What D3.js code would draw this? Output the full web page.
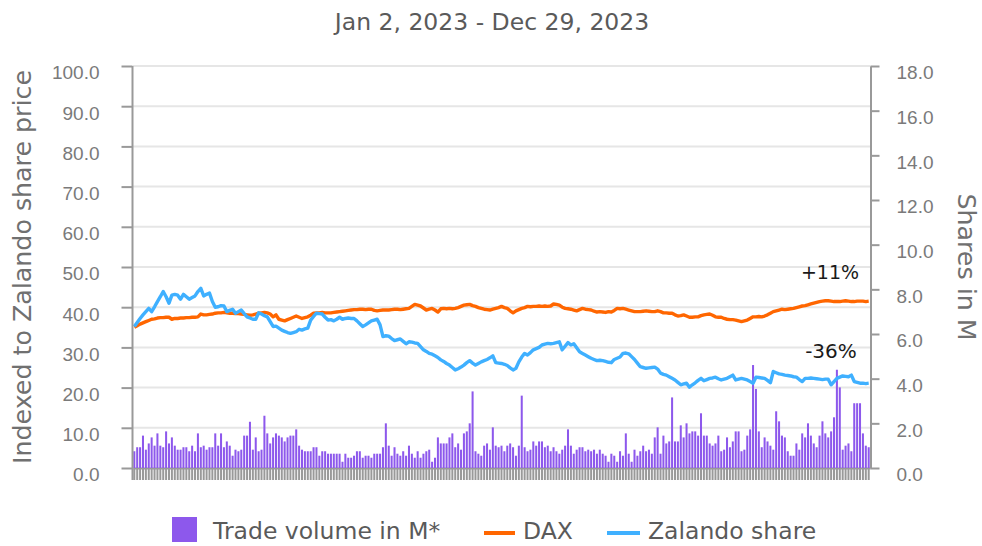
<!DOCTYPE html>
<html>
<head>
<meta charset="utf-8">
<script src="https://cdn.jsdelivr.net/npm/d3@7.9.0/dist/d3.min.js"></script>
<style>
  html, body { margin: 0; padding: 0; background: #fff; }
  svg { display: block; font-family: "DejaVu Sans", Verdana, sans-serif; }
</style>
</head>
<body>
<svg id="chart" width="982" height="546"></svg>
<script>
// trading days of 2023 (Xetra), weekends and exchange holidays removed
const holidays = ['2023-04-07', '2023-04-10', '2023-05-01', '2023-12-25', '2023-12-26'];
const days = d3.timeDays(new Date(2023, 0, 2), new Date(2023, 11, 30))
  .filter(d => d.getDay() !== 0 && d.getDay() !== 6)
  .filter(d => !holidays.includes(d3.timeFormat('%Y-%m-%d')(d)));

// trade volume in M, one bar per day
const volume = [
  0.75,0.93,0.93,1.45,0.82,1.10,1.37,1.0,1.55,1.0,
  0.93,1.64,1.10,1.37,1.0,0.82,0.82,0.93,0.93,0.75,
  1.0,0.75,1.55,0.93,1.0,0.82,0.93,0.93,1.55,1.0,
  1.55,0.93,1.19,1.0,0.55,0.82,0.75,0.82,1.45,1.45,
  2.07,0.82,1.37,0.75,0.82,2.34,1.55,1.10,1.37,1.55,
  1.45,1.37,1.19,1.37,1.45,1.45,1.73,1.0,0.82,0.75,
  0.75,0.75,0.93,0.93,0.55,0.75,0.75,0.64,0.64,0.64,
  0.64,0.64,0.28,0.64,0.46,0.46,0.55,0.75,0.75,0.46,
  0.55,0.55,0.46,0.64,0.64,0.64,0.93,2.0,1.0,0.55,
  0.93,0.64,0.55,0.75,0.55,1.0,0.64,0.46,0.75,0.46,
  0.64,0.75,
  0.82,0.28,0.46,1.37,1.10,1.10,1.10,1.37,1.55,0.93,
  1.10,0.82,1.55,1.64,2.0,3.43,0.75,0.64,0.55,1.0,
  1.10,0.82,1.82,1.0,0.93,1.0,0.75,1.0,1.10,0.93,
  0.55,1.0,3.24,0.93,0.75,0.82,1.19,1.0,1.19,1.19,
  0.93,1.0,0.75,0.93,0.75,0.64,0.82,1.0,1.73,1.0,
  0.64,0.82,0.93,0.93,0.75,0.82,0.75,0.82,0.64,0.82,
  0.64,0.55,0.28,0.64,0.55,0.28,0.75,0.55,1.55,0.64,
  0.28,0.82,0.55,0.75,1.0,0.75,0.82,0.64,1.37,1.82,
  0.64,1.45,1.10,1.19,3.16,1.19,1.19,1.91,1.37,2.0,
  1.55,1.64,1.64,1.45,2.45,1.45,1.45,1.10,1.0,1.10,
  1.45,0.75,
  0.82,1.37,0.93,1.19,1.64,1.64,0.75,0.82,1.45,1.73,
  4.61,3.54,1.64,0.93,1.37,1.19,1.0,0.82,2.54,2.09,
  1.45,1.37,0.75,0.55,0.55,1.10,0.82,1.55,1.37,2.0,
  1.45,1.10,0.93,1.45,2.09,1.55,1.37,1.64,2.27,4.40,
  3.61,0.82,1.0,1.10,0.75,2.90,2.90,2.90,1.55,1.0,
  0.93
];

// DAX, indexed to the Zalando share price
const dax = [
  35.0,35.4,35.8,36.1,36.4,36.7,37.0,37.1,37.3,37.4,
  37.4,37.5,37.5,37.0,37.2,37.2,37.3,37.3,37.4,37.4,
  37.5,37.5,37.6,38.3,38.1,38.1,38.2,38.3,38.5,38.6,
  38.6,38.7,38.6,38.5,38.5,38.4,38.4,38.3,38.2,38.1,
  38.0,38.1,38.3,38.5,38.6,38.7,38.6,38.3,37.6,38.1,
  37.0,36.8,36.6,36.9,37.2,37.5,37.8,37.5,37.2,37.4,
  37.6,38.0,38.5,38.6,38.6,38.7,38.6,38.6,38.6,38.7,
  38.8,38.9,39.0,39.1,39.2,39.3,39.4,39.4,39.5,39.5,
  39.4,39.5,39.5,39.2,39.1,39.2,39.3,39.3,39.3,39.4,
  39.5,39.5,39.4,39.5,39.6,39.7,40.2,40.7,40.5,40.3,
  39.8,39.3,39.5,39.7,39.3,38.8,39.6,39.7,39.6,39.7,
  39.6,39.7,39.9,40.2,40.5,40.6,40.7,40.4,40.2,39.9,
  39.7,39.5,39.4,39.3,39.5,39.7,39.9,40.2,39.9,39.7,
  39.1,38.6,39.1,39.4,39.7,39.9,40.2,40.1,40.2,40.2,
  40.3,40.2,40.3,40.2,40.3,40.8,40.7,40.5,40.0,39.7,
  39.6,39.5,39.3,39.1,39.4,39.7,39.5,39.4,39.3,39.0,
  38.8,38.9,38.8,38.7,38.9,38.8,39.2,39.7,39.6,39.7,
  39.5,39.3,39.1,38.9,38.9,38.9,39.0,39.1,39.0,38.9,
  38.9,39.1,38.9,38.6,38.6,38.5,38.5,38.1,37.8,37.9,
  38.1,37.8,37.5,37.5,37.6,37.6,37.9,38.1,38.2,38.3,
  38.0,37.6,37.5,37.5,37.2,37.0,36.9,36.9,36.8,36.6,
  36.4,36.6,36.8,37.2,37.6,37.6,37.7,37.6,37.8,38.1,
  38.5,38.9,39.1,39.3,39.5,39.4,39.5,39.6,39.7,39.9,
  40.1,40.3,40.4,40.6,40.8,41.0,41.2,41.4,41.5,41.6,
  41.6,41.5,41.4,41.4,41.4,41.5,41.6,41.5,41.4,41.4,
  41.5,41.5,41.5,41.4,41.5
];

// Zalando share price
const zalando = [
  35.2,36.2,37.2,38.1,38.9,39.7,38.9,40.1,41.4,42.6,
  43.9,42.6,41.0,43.0,43.2,43.0,42.0,43.2,42.6,42.0,
  42.4,42.8,43.9,44.7,42.8,43.2,43.5,41.4,40.0,40.1,
  40.4,40.3,38.9,39.2,39.5,38.5,38.9,39.3,38.4,37.6,
  37.3,37.0,37.0,38.6,38.3,37.9,37.6,36.4,35.2,35.3,
  34.8,34.3,34.0,33.7,33.5,33.7,33.9,34.5,34.3,34.6,
  34.8,36.8,37.7,38.5,38.4,38.3,37.5,36.8,36.9,36.6,
  37.0,37.5,37.0,37.2,37.3,37.2,37.2,36.6,35.9,35.2,
  35.6,36.1,36.6,36.8,37.0,35.6,32.7,32.9,32.8,32.2,
  31.7,31.9,32.1,31.5,30.9,31.4,31.3,31.1,31.0,30.2,
  29.4,29.0,28.5,28.3,27.9,27.5,26.9,26.5,26.0,25.6,
  25.0,24.4,24.7,25.1,25.6,26.2,26.7,26.1,25.6,26.0,
  26.4,26.7,27.0,27.4,27.9,26.2,26.1,26.0,25.8,25.5,
  24.9,24.4,24.8,26.4,27.6,28.5,28.1,28.7,29.4,29.7,
  30.0,30.6,30.8,31.0,30.9,31.0,31.2,31.4,29.4,30.3,
  31.2,30.6,30.9,29.9,28.9,28.5,28.1,27.7,27.3,27.0,
  26.7,26.8,26.7,26.5,26.3,26.2,27.0,27.3,27.6,28.5,
  28.6,28.4,27.7,27.0,26.1,25.2,25.0,24.8,24.9,25.0,
  25.1,24.6,23.6,23.3,23.1,22.7,22.3,21.9,21.3,20.7,
  20.9,21.1,20.1,20.7,21.2,21.8,22.3,21.7,22.0,22.3,
  22.4,22.6,22.2,21.9,22.1,22.3,22.7,23.1,21.9,22.1,
  22.3,22.1,21.9,21.5,21.1,22.6,22.5,22.4,22.3,21.8,
  21.2,24.0,23.7,23.4,23.3,23.1,23.0,22.9,22.7,22.6,
  22.0,21.5,22.3,22.3,22.4,22.3,22.2,22.1,22.0,22.1,
  22.1,20.7,21.5,22.3,22.6,22.9,22.8,22.7,23.1,21.5,
  21.3,21.1,21.1,21.0,21.1
];

const leftTicks = d3.range(0, 101, 10);
const rightTicks = d3.range(0, 19, 2);
const dateRange = 'Jan 2, 2023 - Dec 29, 2023';
const endLabels = ['+11%', '-36%'];
const legendItems = ['Trade volume in M*', 'DAX', 'Zalando share'];

const svg = d3.select('#chart');
const plot = { left: 133, right: 870, top: 66, bottom: 468 };

const x = d3.scaleBand()
  .domain(days.map((d, i) => i))
  .range([plot.left, plot.right])
  .paddingInner(0.3)
  .paddingOuter(0.1);
const yLeft = d3.scaleLinear().domain([0, 100]).range([plot.bottom, plot.top]);
const yRight = d3.scaleLinear().domain([0, 18]).range([plot.bottom, plot.top]);
const cx = i => x(i) + x.bandwidth() / 2;

// title
svg.append('text')
  .attr('x', 492).attr('y', 30)
  .attr('text-anchor', 'middle')
  .attr('font-size', 23.5).attr('fill', '#5a5a5a')
  .text(dateRange);

// gridlines
svg.append('g')
  .selectAll('line')
  .data(leftTicks.slice(1))
  .join('line')
  .attr('x1', plot.left).attr('x2', plot.right)
  .attr('y1', d => yLeft(d)).attr('y2', d => yLeft(d))
  .attr('stroke', '#e6e6e6').attr('stroke-width', 2);

// x axis: one tick per trading day
const xAxis = svg.append('g')
  .attr('transform', `translate(0, ${plot.bottom})`)
  .call(d3.axisBottom(x).tickSize(12).tickSizeOuter(0).tickFormat(''));
xAxis.select('.domain').attr('stroke', '#999').attr('stroke-width', 2);
xAxis.selectAll('.tick line').attr('stroke', '#999').attr('stroke-width', 2);

// volume bars
svg.append('g')
  .selectAll('rect')
  .data(volume)
  .join('rect')
  .attr('x', (d, i) => x(i))
  .attr('width', x.bandwidth())
  .attr('y', d => yRight(d))
  .attr('height', d => plot.bottom - yRight(d))
  .attr('fill', '#8d58ec');

// lines
const line = d3.line().x((d, i) => cx(i)).y(d => yLeft(d));
svg.append('path').datum(dax)
  .attr('d', line).attr('fill', 'none')
  .attr('stroke', '#ff6600').attr('stroke-width', 3.4).attr('stroke-linejoin', 'round');
svg.append('path').datum(zalando)
  .attr('d', line).attr('fill', 'none')
  .attr('stroke', '#3fb0ff').attr('stroke-width', 3.4).attr('stroke-linejoin', 'round');

// left axis
const leftAxis = svg.append('g')
  .attr('transform', `translate(${plot.left - 0.5}, 0)`)
  .call(d3.axisLeft(yLeft).tickValues(leftTicks).tickSize(11).tickPadding(22)
    .tickSizeOuter(0).tickFormat(d3.format('.1f')));
leftAxis.select('.domain').attr('stroke', '#999').attr('stroke-width', 2)
  .attr('d', `M0,${plot.top}V${plot.bottom + 12}`);
leftAxis.selectAll('.tick line').attr('stroke', '#999').attr('stroke-width', 2);
leftAxis.selectAll('.tick text')
  .attr('font-size', 19).attr('fill', '#7a7a7a').attr('font-family', null)
  .attr('dy', '0.36em').attr('y', 6);

// right axis
const rightAxis = svg.append('g')
  .attr('transform', `translate(${plot.right + 0.5}, 0)`)
  .call(d3.axisRight(yRight).tickValues(rightTicks).tickSize(9).tickPadding(17)
    .tickSizeOuter(0).tickFormat(d3.format('.1f')));
rightAxis.select('.domain').attr('stroke', '#999').attr('stroke-width', 2);
rightAxis.selectAll('.tick line').attr('stroke', '#999').attr('stroke-width', 2);
rightAxis.selectAll('.tick text')
  .attr('font-size', 19).attr('fill', '#7a7a7a').attr('font-family', null)
  .attr('dy', '0.36em').attr('y', 6);

// axis titles
svg.append('text')
  .attr('transform', 'translate(31, 267) rotate(-90)')
  .attr('text-anchor', 'middle')
  .attr('font-size', 25.3).attr('fill', '#707070')
  .text('Indexed to Zalando share price');
svg.append('text')
  .attr('transform', 'translate(958, 267) rotate(90)')
  .attr('text-anchor', 'middle')
  .attr('font-size', 25.3).attr('fill', '#707070')
  .text('Shares in M');

// end-of-period labels
svg.append('text')
  .attr('x', 830).attr('y', 279)
  .attr('text-anchor', 'middle')
  .attr('font-size', 19).attr('fill', '#1a1a1a')
  .text(endLabels[0]);
svg.append('text')
  .attr('x', 831).attr('y', 358)
  .attr('text-anchor', 'middle')
  .attr('font-size', 20).attr('fill', '#1a1a1a')
  .text(endLabels[1]);

// legend
const legend = svg.append('g').attr('font-size', 23.5).attr('fill', '#5a5a5a');
legend.append('rect')
  .attr('x', 172).attr('y', 517).attr('width', 25).attr('height', 25)
  .attr('fill', '#8d58ec');
legend.append('text').attr('x', 213).attr('y', 539).text(legendItems[0]);
legend.append('line')
  .attr('x1', 484).attr('x2', 515).attr('y1', 533).attr('y2', 533)
  .attr('stroke', '#ff6600').attr('stroke-width', 4);
legend.append('text').attr('x', 523).attr('y', 539).text(legendItems[1]);
legend.append('line')
  .attr('x1', 607).attr('x2', 640).attr('y1', 533).attr('y2', 533)
  .attr('stroke', '#3fb0ff').attr('stroke-width', 4);
legend.append('text').attr('x', 648).attr('y', 539).text(legendItems[2]);
</script>
</body>
</html>
